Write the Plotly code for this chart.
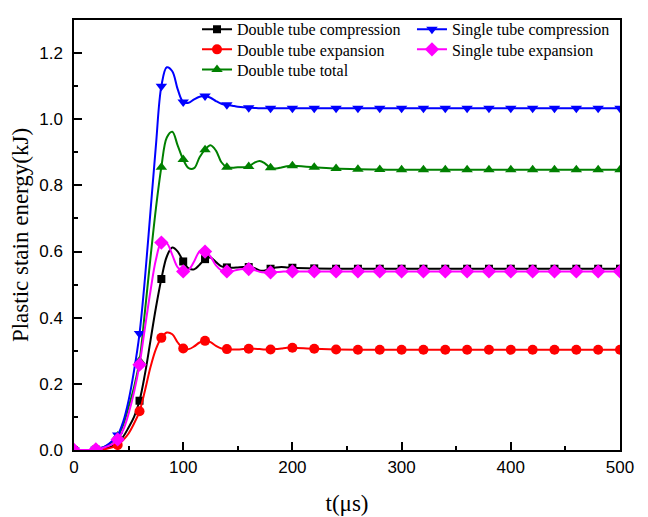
import plotly.graph_objects as go

# common time grid (µs)
t = list(range(0, 201, 5)) + list(range(220, 501, 20))

# Double tube compression (kJ)
dt_comp = [0, 0, 0, 0, 0.001, 0.003, 0.006, 0.012, 0.022, 0.04, 0.068, 0.10, 0.149,
           0.23, 0.33, 0.43, 0.517, 0.585, 0.612, 0.600, 0.570, 0.549, 0.546, 0.560,
           0.577, 0.582, 0.568, 0.555, 0.552, 0.551, 0.552, 0.553, 0.553, 0.550,
           0.543, 0.543, 0.548, 0.552, 0.553, 0.552, 0.551,
           0.549, 0.548, 0.548, 0.548, 0.548, 0.548, 0.548, 0.548, 0.548, 0.548,
           0.548, 0.548, 0.548, 0.548, 0.548]
# Double tube expansion
dt_exp = [0, 0, 0, 0, 0.001, 0.002, 0.004, 0.008, 0.015, 0.03, 0.05, 0.08, 0.117,
          0.18, 0.25, 0.305, 0.339, 0.355, 0.350, 0.325, 0.307, 0.305, 0.313, 0.325,
          0.330, 0.326, 0.315, 0.307, 0.305, 0.304, 0.304, 0.305, 0.306, 0.306,
          0.305, 0.304, 0.304, 0.305, 0.307, 0.309, 0.309,
          0.306, 0.304, 0.303, 0.303, 0.303, 0.303, 0.303, 0.303, 0.303, 0.303,
          0.303, 0.303, 0.303, 0.303, 0.303]
# Double tube total
dt_total = [0, 0, 0, 0, 0.002, 0.006, 0.013, 0.025, 0.042, 0.075, 0.13, 0.19, 0.27,
            0.42, 0.58, 0.73, 0.855, 0.945, 0.962, 0.920, 0.878, 0.852, 0.852, 0.885,
            0.908, 0.921, 0.905, 0.870, 0.855, 0.853, 0.855, 0.855, 0.857, 0.868,
            0.874, 0.866, 0.853, 0.851, 0.854, 0.858, 0.859,
            0.855, 0.851, 0.849, 0.848, 0.847, 0.847, 0.847, 0.847, 0.847, 0.847,
            0.847, 0.847, 0.847, 0.847, 0.847]
# Single tube compression
st_comp = [0, 0, 0, 0, 0.002, 0.006, 0.014, 0.027, 0.045, 0.085, 0.15, 0.24, 0.352,
           0.52, 0.72, 0.92, 1.100, 1.157, 1.145, 1.090, 1.052, 1.050, 1.060, 1.068,
           1.070, 1.065, 1.055, 1.047, 1.044, 1.041, 1.038, 1.036, 1.035, 1.034,
           1.033, 1.033, 1.033, 1.033, 1.033, 1.033, 1.033,
           1.033, 1.033, 1.033, 1.033, 1.033, 1.033, 1.033, 1.033, 1.033, 1.033,
           1.033, 1.033, 1.033, 1.033, 1.033]
# Single tube expansion
st_exp = [0, 0, 0, 0, 0.002, 0.005, 0.010, 0.018, 0.032, 0.06, 0.11, 0.175, 0.258,
          0.37, 0.48, 0.575, 0.627, 0.625, 0.590, 0.552, 0.540, 0.545, 0.570, 0.600,
          0.600, 0.585, 0.558, 0.543, 0.540, 0.541, 0.545, 0.547, 0.547, 0.544,
          0.539, 0.537, 0.537, 0.538, 0.539, 0.540, 0.540,
          0.540, 0.540, 0.540, 0.540, 0.540, 0.540, 0.540, 0.540, 0.540, 0.540,
          0.540, 0.540, 0.540, 0.540, 0.540]

x_ticks = [0, 100, 200, 300, 400, 500]
y_ticks = [0.0, 0.2, 0.4, 0.6, 0.8, 1.0, 1.2]

# name, values, colour, symbol, marker size, legend id, legend x, legend y
series = [
    ("Double tube compression", dt_comp, "#000000", "square", 8, "legend", 0.2253, 1.018),
    ("Double tube expansion", dt_exp, "#ff0000", "circle", 10, "legend2", 0.2253, 0.971),
    ("Double tube total", dt_total, "#008000", "triangle-up", 10, "legend3", 0.2253, 0.924),
    ("Single tube compression", st_comp, "#0000ff", "triangle-down", 10, "legend4", 0.619, 1.018),
    ("Single tube expansion", st_exp, "#ff00ff", "diamond", 11, "legend5", 0.619, 0.971),
]

SERIF = "Liberation Serif, Times New Roman, serif"
SANS = "Liberation Sans, Arial, sans-serif"

fig = go.Figure()
legends = {}
for name, ys, color, sym, size, leg, lx, ly in series:
    fig.add_trace(go.Scatter(x=t, y=ys, mode="lines", line=dict(color=color, width=2, shape="spline", smoothing=1),
                             showlegend=False, hoverinfo="skip"))
    mx = [tt for tt in t if tt % 20 == 0]
    my = [v for tt, v in zip(t, ys) if tt % 20 == 0]
    fig.add_trace(go.Scatter(x=mx, y=my, mode="markers",
                             marker=dict(symbol=sym, size=size, color=color, line=dict(width=0)),
                             showlegend=False))
    fig.add_trace(go.Scatter(x=[None], y=[None], mode="lines+markers", name=name, legend=leg,
                             line=dict(color=color, width=2),
                             marker=dict(symbol=sym, size=size, color=color, line=dict(width=0))))
    legends[leg] = dict(x=lx, y=ly, font=dict(family=SERIF, size=16, color="black"),
                        bgcolor="rgba(0,0,0,0)", borderwidth=0, yanchor="top", xanchor="left")

axis_common = dict(showline=True, linecolor="black", linewidth=1.5, mirror=True,
                   ticks="inside", ticklen=8, tickwidth=1.5, tickcolor="black",
                   showgrid=False, zeroline=False, automargin=False,
                   tickfont=dict(family=SANS, size=17, color="black"))

fig.update_xaxes(range=[0, 500], tickvals=x_ticks, ticktext=[str(v) for v in x_ticks],
                 ticklabelstandoff=1,
                 minor=dict(ticks="inside", ticklen=4, tickwidth=1.5, tickcolor="black", dtick=50, tick0=0),
                 title=dict(text="t(μs)", font=dict(family=SERIF, size=23, color="black"), standoff=19),
                 **axis_common)
fig.update_yaxes(range=[0, 1.3], tickvals=y_ticks, ticktext=[f"{v:.1f}" for v in y_ticks],
                 ticklabelstandoff=6,
                 minor=dict(ticks="inside", ticklen=4, tickwidth=1.5, tickcolor="black", dtick=0.1, tick0=0),
                 title=dict(text="Plastic stain energy(kJ)", font=dict(family=SERIF, size=23, color="black"), standoff=8),
                 **axis_common)

# the page body adds an 8px offset, so the figure is 8px smaller and margins compensate
fig.update_layout(
    width=640, height=509,
    margin=dict(l=66, r=28, t=4, b=67),
    paper_bgcolor="white", plot_bgcolor="white",
    **legends,
)

fig.write_html("out.html")
